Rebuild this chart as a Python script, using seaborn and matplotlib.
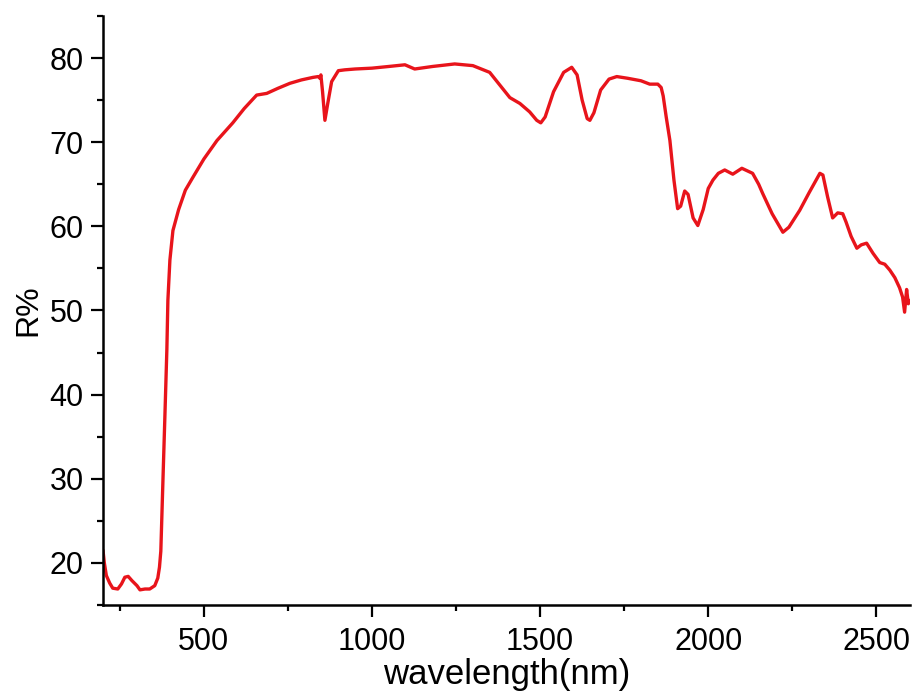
import matplotlib
matplotlib.use("Agg")
import matplotlib.pyplot as plt
import seaborn as sns
import pandas as pd
from matplotlib.ticker import MultipleLocator

wavelength = [200, 204, 210, 220, 229, 244, 255, 265, 275, 286, 301, 310, 325, 339, 354, 363, 368, 372,
              378, 384, 390, 393, 399, 408, 425, 445, 467, 500, 539, 586, 620, 657, 687, 720, 756, 790,
              824, 840, 845, 848, 853, 860, 868, 880, 900, 919, 950, 1000, 1050, 1098, 1127, 1180, 1246,
              1300, 1350, 1380, 1410, 1440, 1469, 1490, 1502, 1515, 1540, 1570, 1594, 1610, 1625, 1640,
              1648, 1660, 1680, 1705, 1728, 1760, 1800, 1826, 1850, 1860, 1866, 1875, 1886, 1898, 1909,
              1918, 1930, 1940, 1955, 1969, 1985, 2000, 2014, 2030, 2049, 2073, 2100, 2132, 2150, 2162,
              2190, 2222, 2240, 2272, 2300, 2332, 2341, 2355, 2370, 2385, 2400, 2410, 2425, 2442, 2455,
              2471, 2490, 2510, 2525, 2540, 2555, 2569, 2578, 2584, 2590, 2595, 2600]
reflectance = [21.5, 20.0, 18.5, 17.6, 17.0, 16.9, 17.5, 18.3, 18.4, 17.9, 17.3, 16.8, 16.9, 16.9, 17.3, 18.2, 19.5, 21.4,
               29.4, 37.3, 45.4, 51.2, 56.0, 59.5, 62.0, 64.3, 65.8, 68.0, 70.2, 72.3, 74.0, 75.6, 75.8, 76.4, 77.0, 77.4,
               77.7, 77.8, 77.6, 78.0, 76.0, 72.6, 74.5, 77.2, 78.5, 78.6, 78.7, 78.8, 79.0, 79.2, 78.7, 79.0, 79.3,
               79.1, 78.3, 76.8, 75.3, 74.6, 73.6, 72.6, 72.3, 73.0, 76.0, 78.3, 78.9, 78.0, 75.0, 72.8,
               72.6, 73.5, 76.2, 77.5, 77.8, 77.6, 77.3, 76.9, 76.9, 76.5, 75.5, 73.0, 70.2, 65.5, 62.1,
               62.4, 64.2, 63.8, 61.0, 60.1, 62.0, 64.5, 65.5, 66.3, 66.7, 66.2, 66.9, 66.3, 65.0, 63.9,
               61.5, 59.3, 59.9, 61.9, 64.0, 66.3, 66.1, 63.5, 61.0, 61.6, 61.5, 60.5, 58.8, 57.4, 57.8,
               58.0, 56.8, 55.7, 55.5, 54.8, 53.9, 52.7, 51.6, 49.8, 52.5, 50.8, 51.2]

x_ticks = [500, 1000, 1500, 2000, 2500]
y_ticks = [20, 30, 40, 50, 60, 70, 80]

df = pd.DataFrame({"wavelength": wavelength, "R": reflectance})

sns.set_style("ticks")
plt.rcParams["font.family"] = ["Liberation Sans", "DejaVu Sans"]
plt.rcParams["text.color"] = "black"
plt.rcParams["axes.labelcolor"] = "black"

fig = plt.figure(figsize=(9.13, 6.95), dpi=100)
ax = fig.add_axes([0.1128, 0.1295, 0.8839, 0.8475])

sns.lineplot(data=df, x="wavelength", y="R", ax=ax, color="#e8141b", linewidth=2.4, sort=False)

ax.set_xlim(200, 2600)
ax.set_ylim(15, 85)
ax.set_xticks(x_ticks)
ax.set_yticks(y_ticks)
ax.xaxis.set_minor_locator(MultipleLocator(250))
ax.yaxis.set_minor_locator(MultipleLocator(5))

for s in ["top", "right"]:
    ax.spines[s].set_visible(False)
for s in ["left", "bottom"]:
    ax.spines[s].set_linewidth(1.8)
    ax.spines[s].set_color("black")

ax.tick_params(which="major", direction="out", length=8.5, width=1.6, labelsize=22, colors="black")
ax.tick_params(axis="x", which="major", pad=7)
ax.tick_params(axis="y", which="major", pad=5.5)
ax.tick_params(which="minor", direction="out", length=4.5, width=1.6, colors="black")

ax.set_xlabel("wavelength(nm)", fontsize=25, labelpad=1, color="black")
ax.set_ylabel("R%", fontsize=23, labelpad=4, color="black")

fig.savefig("out.png", dpi=100, facecolor="white")
